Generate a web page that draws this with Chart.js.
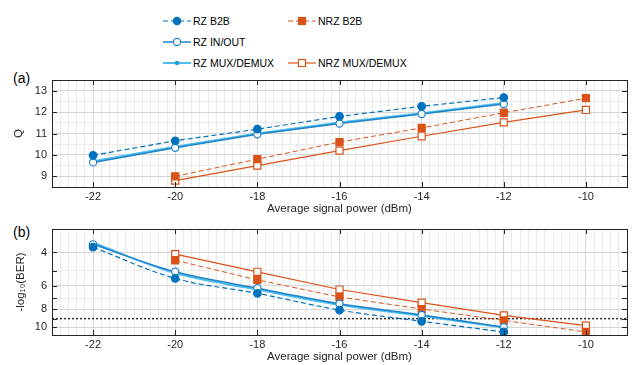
<!DOCTYPE html>
<html>
<head>
<meta charset="utf-8">
<script src="https://cdn.jsdelivr.net/npm/chart.js@4.4.1/dist/chart.umd.min.js"></script>
<style>
  body { margin: 0; background: #fff; font-family: "Liberation Sans", Arial, sans-serif; }
  #wrap { position: relative; width: 634px; height: 365px; overflow: hidden; }
  canvas { position: absolute; left: 0; }
  #c1 { top: 66px; }
  #c2 { top: 216px; }
  .panel { position: absolute; left: 13px; font-size: 14px; line-height: 16px; color: #000; }
  .leg { position: absolute; height: 12px; font-size: 10.5px; line-height: 12px; color: #000; white-space: nowrap; }
  .leg svg { position: absolute; left: 0; top: 0; }
  .leg span { position: absolute; left: 30px; top: 0; }
</style>
</head>
<body>
<div id="wrap">
  <div id="legend"></div>
  <div class="panel" style="top:70px">(a)</div>
  <div class="panel" style="top:224px">(b)</div>
  <canvas id="c1" width="634" height="150"></canvas>
  <canvas id="c2" width="634" height="149"></canvas>
</div>
<script>
// received power (dBm)
const powerRz = [-22, -20, -18, -16, -14, -12];
const powerNrz = [-20, -18, -16, -14, -12, -10];

// (a) Q factor
const qRzB2b = [9.98, 10.66, 11.2, 11.8, 12.27, 12.68];
const qRzInOut = [9.65, 10.33, 10.96, 11.47, 11.91, 12.38];
const qRzMux = [9.7, 10.38, 11.0, 11.51, 11.95, 12.42];
const qNrzB2b = [9.0, 9.8, 10.6, 11.26, 11.97, 12.65];
const qNrzMux = [8.8, 9.5, 10.2, 10.87, 11.52, 12.1];

// (b) -log10(BER)
const berRzB2b = [3.75, 5.5, 6.6, 8.1, 9.3, 10.6];
const berRzInOut = [3.62, 5.07, 6.2, 7.5, 8.6, 10.0];
const berRzMux = [3.55, 5.15, 6.3, 7.6, 8.7, 10.05];
const berNrzB2b = [4.4, 5.6, 6.9, 8.0, 9.2, 10.6];
const berNrzMux = [4.08, 5.07, 6.3, 7.4, 8.65, 9.8];
const berLimit = 9;

// ticks
const xTicks = [-22, -20, -18, -16, -14, -12, -10];
const qTicks = [9, 10, 11, 12, 13];
const berTicks = [4, 6, 8, 10];
const berMinor = [3, 4, 5, 6, 7, 8, 9, 10, 11];

const BLUE = '#0072BD', BLUE2 = '#1f83c9', CYAN = '#4DBEEE', ORANGE = '#D95319';
const MAJOR = '#d6d6d6', MINOR = '#ebebeb', AXIS = '#262626';

// minor grid positions
const xGrid = [];
for (let i = 0; i <= 70; i++) xGrid.push(Math.round((-23 + i * 0.2) * 10) / 10);
const qGrid = [];
for (let i = 0; i <= 10; i++) qGrid.push(8.5 + i * 0.5);

const pts = (xs, ys) => xs.map((x, i) => ({ x: x, y: ys[i] }));

const series = [
  { label: 'RZ B2B', color: BLUE, dash: [5, 3], width: 1.2, style: 'circle', r: 3.8, fill: BLUE },
  { label: 'RZ IN/OUT', color: BLUE2, dash: [], width: 1.5, style: 'circle', r: 3.6, fill: '#fff' },
  { label: 'RZ MUX/DEMUX', color: CYAN, dash: [], width: 2, style: 'circle', r: 1.6, fill: '#1a9ad6' },
  { label: 'NRZ B2B', color: ORANGE, dash: [5, 3], width: 1, style: 'rect', r: 5, fill: ORANGE },
  { label: 'NRZ MUX/DEMUX', color: ORANGE, dash: [], width: 1.2, style: 'rect', r: 5, fill: '#fff' }
];

function makeSet(s, xs, ys, tension) {
  return {
    label: s.label,
    data: pts(xs, ys),
    borderColor: s.color,
    borderWidth: s.width,
    borderDash: s.dash,
    backgroundColor: s.fill,
    pointStyle: s.style,
    pointRadius: s.r,
    pointBackgroundColor: s.fill,
    pointBorderColor: s.style === 'circle' && s.r < 2 ? s.fill : s.color,
    pointBorderWidth: 1.2,
    tension: tension || 0
  };
}

// frame and inner tick marks, like a boxed matlab axes
const boxPlugin = {
  id: 'box',
  afterDatasetsDraw(chart, args, opts) {
    const { ctx, chartArea: a, scales } = chart;
    ctx.save();
    ctx.strokeStyle = AXIS;
    ctx.lineWidth = 1;
    ctx.setLineDash([]);
    ctx.strokeRect(Math.round(a.left) + 0.5, Math.round(a.top) + 0.5, Math.round(a.right - a.left), Math.round(a.bottom - a.top));
    ctx.beginPath();
    xTicks.forEach(v => {
      const x = Math.round(scales.x.getPixelForValue(v)) + 0.5;
      ctx.moveTo(x, a.bottom); ctx.lineTo(x, a.bottom - 5);
      ctx.moveTo(x, a.top); ctx.lineTo(x, a.top + 5);
    });
    opts.yTicks.forEach(v => {
      const y = Math.round(scales.y.getPixelForValue(v)) + 0.5;
      ctx.moveTo(a.left, y); ctx.lineTo(a.left + 5, y);
      ctx.moveTo(a.right, y); ctx.lineTo(a.right - 5, y);
    });
    ctx.stroke();
    ctx.restore();
  }
};

function xScale(tickPad, titlePad, h) {
  return {
    type: 'linear', min: -23, max: -9,
    afterBuildTicks: s => { s.ticks = xGrid.map(v => ({ value: v })); },
    afterFit: s => { s.height = h; },
    ticks: {
      autoSkip: false, maxRotation: 0, padding: tickPad, color: AXIS, font: { size: 11 },
      callback: v => xTicks.includes(v) ? String(v) : ''
    },
    grid: { drawTicks: false, color: c => (c.tick && xTicks.includes(c.tick.value)) ? MAJOR : MINOR },
    border: { display: false },
    title: { display: true, text: 'Average signal power (dBm)', color: AXIS, font: { size: 11.5 }, padding: { top: 0, bottom: titlePad } }
  };
}

Chart.defaults.font.family = '"Liberation Sans", Arial, sans-serif';
Chart.defaults.animation = false;

// (a) Q factor
new Chart(document.getElementById('c1'), {
  type: 'line',
  data: {
    datasets: [
      makeSet(series[0], powerRz, qRzB2b),
      makeSet(series[1], powerRz, qRzInOut),
      makeSet(series[2], powerRz, qRzMux),
      makeSet(series[3], powerNrz, qNrzB2b),
      makeSet(series[4], powerNrz, qNrzMux)
    ]
  },
  options: {
    responsive: false,
    layout: { padding: { top: 14, right: 7, left: 0, bottom: 0 } },
    plugins: { legend: { display: false }, tooltip: { enabled: false }, box: { yTicks: qTicks } },
    scales: {
      x: xScale(3, 0, 29),
      y: {
        type: 'linear', min: 8.5, max: 13.5,
        afterBuildTicks: s => { s.ticks = qGrid.map(v => ({ value: v })); },
        afterFit: s => { s.width = 52; },
        ticks: { autoSkip: false, padding: 5, color: AXIS, font: { size: 11 }, callback: v => qTicks.includes(v) ? String(v) : '' },
        grid: { drawTicks: false, color: c => (c.tick && qTicks.includes(c.tick.value)) ? MAJOR : MINOR },
        border: { display: false },
        title: { display: true, text: 'Q', color: AXIS, font: { size: 11.5 }, padding: { top: 12, bottom: 0 } }
      }
    }
  },
  plugins: [boxPlugin]
});

// (b) BER
const limitSet = {
  label: 'limit',
  data: pts([-23, -9], [berLimit, berLimit]),
  borderColor: '#333',
  borderWidth: 1.5,
  borderDash: [2, 2],
  pointRadius: 0
};

new Chart(document.getElementById('c2'), {
  type: 'line',
  data: {
    datasets: [
      makeSet(series[0], powerRz, berRzB2b, 0.35),
      makeSet(series[1], powerRz, berRzInOut, 0.35),
      makeSet(series[2], powerRz, berRzMux, 0.35),
      makeSet(series[3], powerNrz, berNrzB2b),
      makeSet(series[4], powerNrz, berNrzMux),
      limitSet
    ]
  },
  options: {
    responsive: false,
    layout: { padding: { top: 13, right: 7, left: 0, bottom: 0 } },
    plugins: { legend: { display: false }, tooltip: { enabled: false }, box: { yTicks: berMinor } },
    scales: {
      x: xScale(3, 1, 30),
      y: {
        type: 'logarithmic', min: 3, max: 11, reverse: true,
        afterBuildTicks: s => { s.ticks = berMinor.map(v => ({ value: v })); },
        afterFit: s => { s.width = 52; },
        ticks: { autoSkip: false, padding: 5, color: AXIS, font: { size: 11 }, callback: v => berTicks.includes(v) ? String(v) : '' },
        grid: { drawTicks: false, color: c => (c.tick && berTicks.includes(c.tick.value)) ? MAJOR : MINOR },
        border: { display: false },
        title: { display: true, text: '-log\u2081\u2080(BER)', color: AXIS, font: { size: 11.5 }, padding: { top: 14, bottom: 0 } }
      }
    }
  },
  plugins: [boxPlugin]
});

// legend, two columns like the original
const legendPos = [
  { s: 0, x: 163, y: 15 },
  { s: 3, x: 288, y: 15 },
  { s: 1, x: 163, y: 36 },
  { s: 2, x: 163, y: 57 },
  { s: 4, x: 288, y: 57 }
];
const legendBox = document.getElementById('legend');
legendPos.forEach(p => {
  const s = series[p.s];
  const d = document.createElement('div');
  d.className = 'leg';
  d.style.left = p.x + 'px';
  d.style.top = p.y + 'px';
  let mark;
  if (s.style === 'circle') {
    const r = s.r < 2 ? 1.6 : 3.6;
    mark = `<circle cx="14" cy="6" r="${r}" fill="${s.fill}" stroke="${s.r < 2 ? s.fill : s.color}" stroke-width="1.2"/>`;
  } else {
    mark = `<rect x="10.5" y="2.5" width="7" height="7" fill="${s.fill}" stroke="${s.color}" stroke-width="1.2"/>`;
  }
  d.innerHTML = `<svg width="28" height="12"><line x1="0" y1="6" x2="28" y2="6" stroke="${s.color}" stroke-width="${s.width}" stroke-dasharray="${s.dash.join(' ')}"/>${mark}</svg><span>${s.label}</span>`;
  legendBox.appendChild(d);
});
</script>
</body>
</html>
